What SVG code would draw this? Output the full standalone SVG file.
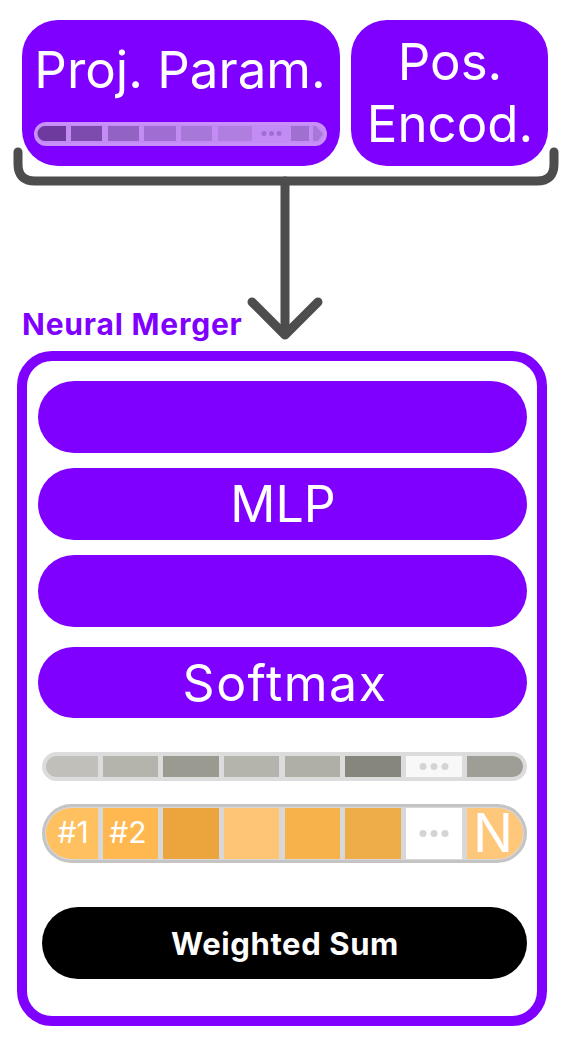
<svg xmlns="http://www.w3.org/2000/svg" width="571" height="1041" viewBox="0 0 571 1041">
<style>
.t{font-family:Inter,"Liberation Sans",sans-serif;fill:#fff;text-anchor:middle}
.b{font-weight:700}
.pur{fill:#7f00ff}
.wire{fill:none;stroke:#4d4d4d;stroke-width:9;stroke-linecap:round;stroke-linejoin:round}
</style>
<rect width="571" height="1041" fill="#fff"/>
<g id="proj-param">
<rect class="pur" x="22" y="20" width="318" height="146" rx="36"/>
<text class="t" x="180" y="88" font-size="51">Proj. Param.</text>
<rect x="35.5" y="123.5" width="290" height="21" rx="10.5" fill="#c38cf4" stroke="#c890f8" stroke-width="3"/>
<path d="M45,126 H66 V141 H45 A7.5,7.5 0 0 1 45,126 Z" fill="#6f3a9e"/>
<rect x="71" y="126" width="31" height="15" fill="#7d4aae"/>
<rect x="108" y="126" width="31" height="15" fill="#9363c4"/>
<rect x="144" y="126" width="32" height="15" fill="#a06ed2"/>
<rect x="181" y="126" width="31" height="15" fill="#a878d8"/>
<rect x="218" y="126" width="34" height="15" fill="#b07edf"/>
<circle cx="264" cy="133.5" r="2.5" fill="#a070d0"/>
<circle cx="271.5" cy="133.5" r="2.5" fill="#a070d0"/>
<circle cx="279" cy="133.5" r="2.5" fill="#a070d0"/>
<rect x="291" y="126" width="18" height="15" fill="#a070d0"/>
<polygon points="313,126 316,126 323,134 318,141 313,141" fill="#a878d8"/>
</g>
<g id="pos-encod">
<rect class="pur" x="351" y="20" width="197" height="146" rx="36"/>
<text class="t" x="450" y="80" font-size="51">Pos.</text>
<text class="t" x="450" y="142" font-size="51">Encod.</text>
</g>
<g id="connectors">
<path class="wire" d="M18,152 V164 Q18,181 35,181 H537 Q554,181 554,164 V152"/>
<path class="wire" d="M285,181 V334"/>
<path class="wire" d="M252,302 L285,335 L318,302"/>
</g>
<g id="neural-merger">
<text x="22" y="335" font-family="Inter,'Liberation Sans',sans-serif" font-weight="700" font-size="30" letter-spacing="0.8" fill="#7f00ff">Neural Merger</text>
<rect x="22" y="356" width="520" height="665" rx="30" fill="none" stroke="#7f00ff" stroke-width="10"/>
</g>
<g id="layer1">
<rect class="pur" x="38" y="381" width="489" height="72" rx="36"/>
</g>
<g id="mlp">
<rect class="pur" x="38" y="468" width="489" height="72" rx="36"/>
<text class="t" x="283" y="522" font-size="50">MLP</text>
</g>
<g id="layer3">
<rect class="pur" x="38" y="555" width="489" height="72" rx="36"/>
</g>
<g id="softmax">
<rect class="pur" x="38" y="647" width="489" height="71" rx="35.5"/>
<text class="t" x="285" y="701" font-size="50" letter-spacing="1.5">Softmax</text>
</g>
<g id="weights">
<rect x="43.5" y="753.5" width="482" height="26" rx="13" fill="#dcdcdc" stroke="#dcdcdc" stroke-width="3"/>
<path d="M56.5,756 H98 V777 H56.5 A10.5,10.5 0 0 1 56.5,756 Z" fill="#c0bfb9"/>
<rect x="103" y="756" width="55" height="21" fill="#b5b4ac"/>
<rect x="163" y="756" width="56" height="21" fill="#9a9a90"/>
<rect x="224" y="756" width="55" height="21" fill="#b5b4ac"/>
<rect x="285" y="756" width="55" height="21" fill="#b0afa6"/>
<rect x="345" y="756" width="56" height="21" fill="#87867c"/>
<rect x="406" y="756" width="56" height="21" fill="#f8f8f8"/>
<circle cx="423" cy="766.5" r="3.5" fill="#d4d4d4"/>
<circle cx="434" cy="766.5" r="3.5" fill="#d4d4d4"/>
<circle cx="445" cy="766.5" r="3.5" fill="#d4d4d4"/>
<path d="M467,756 H512.5 A10.5,10.5 0 0 1 512.5,777 H467 Z" fill="#9f9e96"/>
</g>
<g id="experts">
<rect x="43.5" y="805.5" width="482" height="56" rx="28" fill="#d8d8d8" stroke="#c4c4c4" stroke-width="3"/>
<path d="M71.5,808 H98 V859 H71.5 A25.5,25.5 0 0 1 71.5,808 Z" fill="#ffc060"/>
<rect x="103" y="808" width="55" height="51" fill="#ffb850"/>
<rect x="163" y="808" width="56" height="51" fill="#eba53c"/>
<rect x="224" y="808" width="55" height="51" fill="#fec674"/>
<rect x="285" y="808" width="55" height="51" fill="#f8b24c"/>
<rect x="345" y="808" width="56" height="51" fill="#efad4a"/>
<rect x="406" y="808" width="56" height="51" fill="#ffffff"/>
<circle cx="423" cy="833.5" r="3.5" fill="#d4d4d4"/>
<circle cx="434" cy="833.5" r="3.5" fill="#d4d4d4"/>
<circle cx="445" cy="833.5" r="3.5" fill="#d4d4d4"/>
<path d="M467,808 H497.5 A25.5,25.5 0 0 1 497.5,859 H467 Z" fill="#fec77a"/>
<text class="t" x="73" y="843" font-size="30">#1</text>
<text class="t" x="128" y="843" font-size="30">#2</text>
<text class="t" x="493" y="852" font-size="53">N</text>
</g>
<g id="weighted-sum">
<rect x="42" y="907" width="485" height="72" rx="36" fill="#000"/>
<text class="t b" x="285" y="955" font-size="31" letter-spacing="0.6">Weighted Sum</text>
</g>
</svg>
